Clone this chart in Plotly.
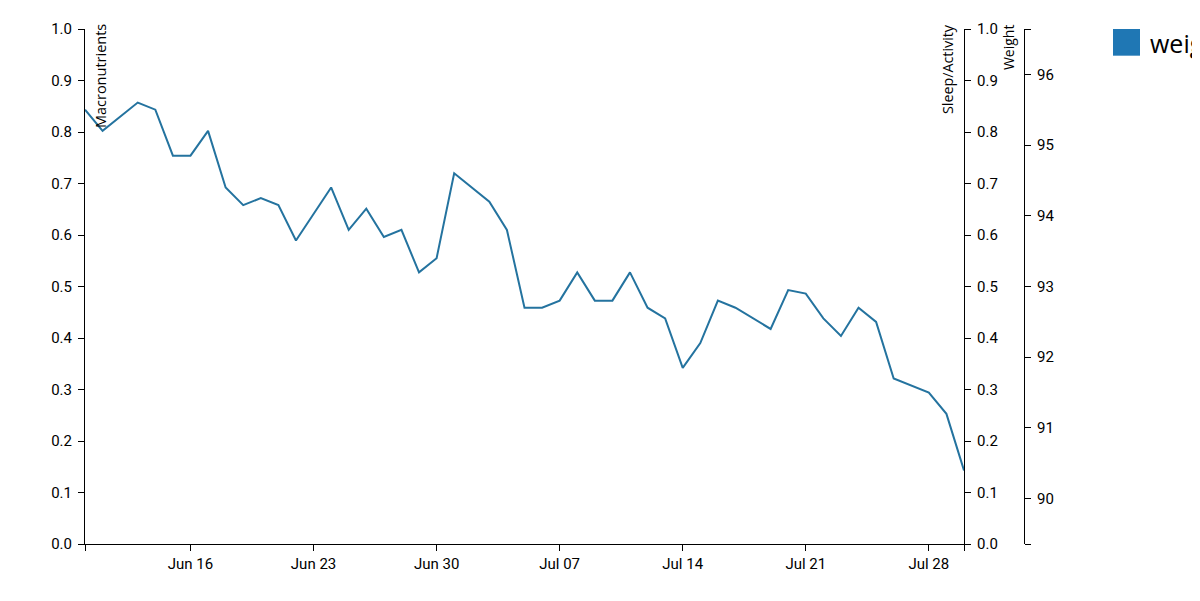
import plotly.graph_objects as go

# ---- data ----
dates = [
    "2019-06-10", "2019-06-11", "2019-06-13", "2019-06-14", "2019-06-15",
    "2019-06-16", "2019-06-17", "2019-06-18", "2019-06-19", "2019-06-20",
    "2019-06-21", "2019-06-22", "2019-06-24", "2019-06-25", "2019-06-26",
    "2019-06-27", "2019-06-28", "2019-06-29", "2019-06-30", "2019-07-01",
    "2019-07-03", "2019-07-04", "2019-07-05", "2019-07-06", "2019-07-07",
    "2019-07-08", "2019-07-09", "2019-07-10", "2019-07-11", "2019-07-12",
    "2019-07-13", "2019-07-14", "2019-07-15", "2019-07-16", "2019-07-17",
    "2019-07-19", "2019-07-20", "2019-07-21", "2019-07-22", "2019-07-23",
    "2019-07-24", "2019-07-25", "2019-07-26", "2019-07-28", "2019-07-29",
    "2019-07-30",
]
weight = [
    95.5, 95.2, 95.6, 95.5, 94.85,
    94.85, 95.2, 94.4, 94.15, 94.25,
    94.15, 93.65, 94.4, 93.8, 94.1,
    93.7, 93.8, 93.2, 93.4, 94.6,
    94.2, 93.8, 92.7, 92.7, 92.8,
    93.2, 92.8, 92.8, 93.2, 92.7,
    92.55, 91.85, 92.2, 92.8, 92.7,
    92.4, 92.95, 92.9, 92.55, 92.3,
    92.7, 92.5, 91.7, 91.5, 91.2,
    90.4,
]

x_range = ["2019-06-10", "2019-07-30"]
x_tickvals = ["2019-06-10", "2019-06-16", "2019-06-23", "2019-06-30", "2019-07-07",
              "2019-07-14", "2019-07-21", "2019-07-28", "2019-07-30"]
x_ticktext = ["", "Jun 16", "Jun 23", "Jun 30", "Jul 07", "Jul 14", "Jul 21", "Jul 28", ""]

unit_ticks = [0.0, 0.1, 0.2, 0.3, 0.4, 0.5, 0.6, 0.7, 0.8, 0.9, 1.0]
unit_ticktext = ["0.0", "0.1", "0.2", "0.3", "0.4", "0.5", "0.6", "0.7", "0.8", "0.9", "1.0"]

weight_range = [89.36, 96.64]
weight_tickvals = [89.36, 90, 91, 92, 93, 94, 95, 96, 96.64]
weight_ticktext = ["", "90", "91", "92", "93", "94", "95", "96", ""]

axis_titles = ["Macronutrients", "Sleep/Activity", "Weight"]
legend_label = "weight"

# ---- layout geometry (screen pixels; the page body adds an 8px offset) ----
OFF = 8
W, H = 1200 - OFF, 601 - 2 * OFF
L, R_PLOT, R_PAPER, T, B = 85, 964, 1024, 23, 544
paper_w = R_PAPER - L
plot_h = B - T


def px(xp):
    return (xp - L) / paper_w


def py(yp):
    return 1 - (yp - T) / plot_h


tick_font = dict(family="Roboto, Arial, sans-serif", size=15, color="#000")

fig = go.Figure()

fig.add_trace(go.Scatter(x=[], y=[], xaxis="x", yaxis="y", showlegend=False))
fig.add_trace(go.Scatter(x=[], y=[], xaxis="x", yaxis="y2", showlegend=False))
fig.add_trace(go.Scatter(
    x=dates, y=weight, mode="lines", name=legend_label,
    line=dict(color="#24739f", width=2),
    xaxis="x", yaxis="y3", showlegend=False,
))

common = dict(
    showgrid=False, zeroline=False, showline=True, linecolor="#000", linewidth=1,
    ticks="outside", ticklen=6, tickwidth=1, tickcolor="#000", tickfont=tick_font,
)

fig.update_layout(
    width=W, height=H,
    margin=dict(l=L - OFF, r=W - (R_PAPER - OFF), t=T - OFF, b=H - (B - OFF), pad=0),
    paper_bgcolor="white", plot_bgcolor="white",
    showlegend=False,
    xaxis=dict(
        domain=[0, (R_PLOT - L) / paper_w],
        type="date", range=x_range,
        tickmode="array", tickvals=x_tickvals, ticktext=x_ticktext,
        anchor="y", ticklabelstandoff=0, **common,
    ),
    yaxis=dict(
        range=[0, 1], tickmode="array", tickvals=unit_ticks, ticktext=unit_ticktext,
        side="left", anchor="x", ticklabelstandoff=3, **common,
    ),
    yaxis2=dict(
        range=[0, 1], tickmode="array", tickvals=unit_ticks, ticktext=unit_ticktext,
        side="right", anchor="x", overlaying="y", ticklabelstandoff=3, **common,
    ),
    yaxis3=dict(
        range=weight_range, tickmode="array", tickvals=weight_tickvals, ticktext=weight_ticktext,
        side="right", anchor="free", position=1.0, overlaying="y", ticklabelstandoff=3,
        **common,
    ),
)

# rotated axis titles
title_sizes = [14.5, 14.3, 14]
title_x = [100, 947, 1008]
for label, xc, fs in zip(axis_titles, title_x, title_sizes):
    fig.add_annotation(
        text=label, xref="paper", yref="paper", x=px(xc), y=py(17),
        xanchor="center", yanchor="top", textangle=-90, showarrow=False,
        font=dict(family="Open Sans, Arial, sans-serif", size=fs, color="#000"),
        borderpad=0,
    )

# legend (square + label, clipped at the right edge as in the reference)
fig.add_shape(
    type="rect", xref="paper", yref="paper",
    x0=px(1113), x1=px(1140), y0=py(50), y1=py(23),
    fillcolor="#1f77b4", line=dict(width=0),
)
fig.add_annotation(
    text=legend_label, xref="paper", yref="paper", x=px(1149), y=py(37),
    xanchor="left", yanchor="middle", showarrow=False,
    font=dict(family="Open Sans, Arial, sans-serif", size=25, color="#000"), borderpad=0,
)

fig.write_html("out.html")
